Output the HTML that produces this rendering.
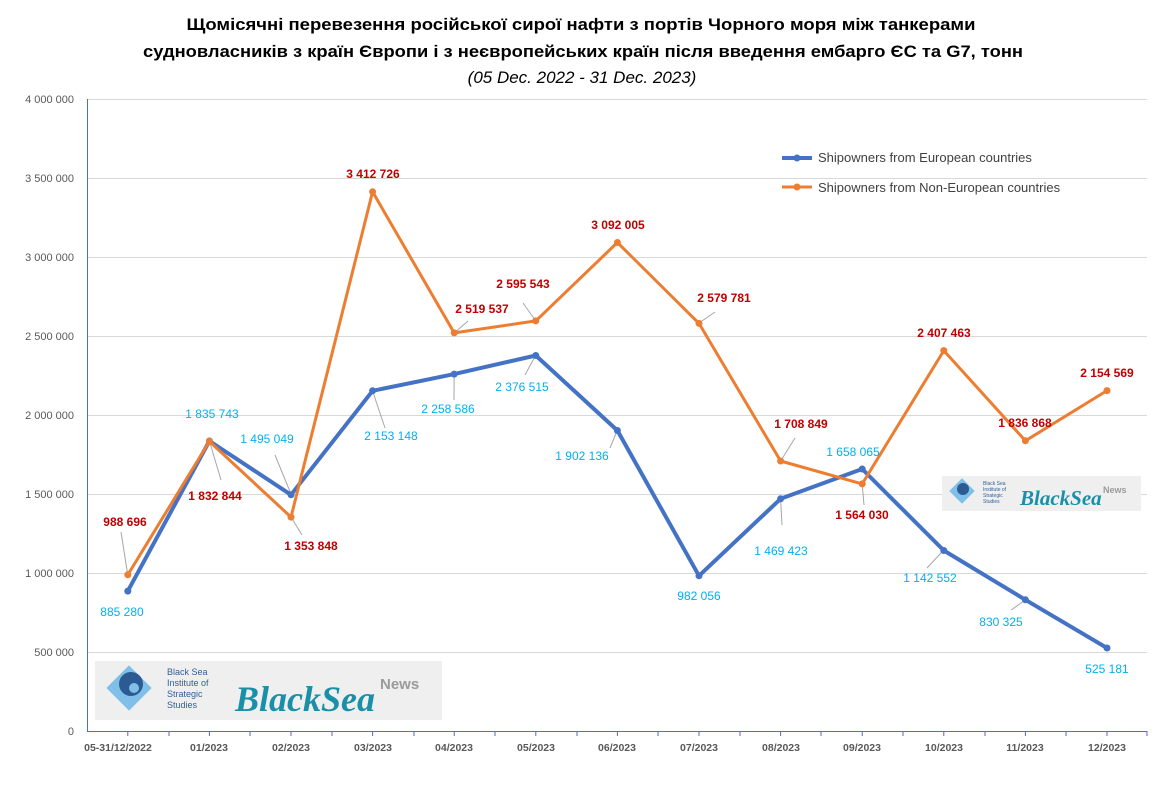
<!DOCTYPE html>
<html><head><meta charset="utf-8"><style>
html,body{margin:0;padding:0;background:#fff;}
svg{display:block;font-family:"Liberation Sans","DejaVu Sans",sans-serif;}
.yl{font-size:11px;fill:#595959;text-anchor:end}
.xl{font-size:10.5px;fill:#595959;text-anchor:middle;font-weight:bold}
.b{font-size:12px;fill:#00b0f0;text-anchor:middle}
.o{font-size:12px;fill:#c00000;text-anchor:middle;font-weight:bold}
</style></head><body>
<svg width="1165" height="800" viewBox="0 0 1165 800">
<rect width="1165" height="800" fill="#fff"/>
<text x="581" y="30" text-anchor="middle" font-size="17" font-weight="bold" fill="#000" textLength="789" lengthAdjust="spacingAndGlyphs">Щомісячні перевезення російської сирої нафти з портів Чорного моря між танкерами</text>
<text x="583" y="57" text-anchor="middle" font-size="17" font-weight="bold" fill="#000" textLength="880" lengthAdjust="spacingAndGlyphs">судновласників з країн Європи і з неєвропейських країн після введення ембарго ЄС та G7, тонн</text>
<text x="582" y="83" text-anchor="middle" font-size="17" font-style="italic" fill="#000">(05 Dec. 2022 - 31 Dec. 2023)</text>
<g stroke="#d9d9d9" stroke-width="1">
<line x1="87" y1="99.5" x2="1147" y2="99.5"/><line x1="87" y1="178.5" x2="1147" y2="178.5"/>
<line x1="87" y1="257.5" x2="1147" y2="257.5"/><line x1="87" y1="336.5" x2="1147" y2="336.5"/>
<line x1="87" y1="415.5" x2="1147" y2="415.5"/><line x1="87" y1="494.5" x2="1147" y2="494.5"/>
<line x1="87" y1="573.5" x2="1147" y2="573.5"/><line x1="87" y1="652.5" x2="1147" y2="652.5"/>
</g>
<line x1="87" y1="731.5" x2="1147" y2="731.5" stroke="#4472c4"/>
<line x1="87.5" y1="99" x2="87.5" y2="731" stroke="#4472c4"/>
<g stroke="#4472c4">
<path d="M127.8 731v5M169 731v5M209.4 731v5M250 731v5M291 731v5M332 731v5M372.6 731v5M414 731v5M454.2 731v5M495 731v5M535.8 731v5M577 731v5M617.4 731v5M658 731v5M699 731v5M740 731v5M780.6 731v5M821 731v5M862.2 731v5M903 731v5M943.8 731v5M985 731v5M1025.4 731v5M1066 731v5M1107 731v5M1147 731v5"/>
</g>
<g class="yl">
<text x="74" y="103">4 000 000</text><text x="74" y="182">3 500 000</text><text x="74" y="261">3 000 000</text>
<text x="74" y="340">2 500 000</text><text x="74" y="419">2 000 000</text><text x="74" y="498">1 500 000</text>
<text x="74" y="577">1 000 000</text><text x="74" y="656">500 000</text><text x="74" y="735">0</text>
</g>
<g class="xl">
<text x="118" y="751">05-31/12/2022</text><text x="209" y="751">01/2023</text><text x="291" y="751">02/2023</text>
<text x="373" y="751">03/2023</text><text x="454" y="751">04/2023</text><text x="536" y="751">05/2023</text>
<text x="617" y="751">06/2023</text><text x="699" y="751">07/2023</text><text x="781" y="751">08/2023</text>
<text x="862" y="751">09/2023</text><text x="944" y="751">10/2023</text><text x="1025" y="751">11/2023</text>
<text x="1107" y="751">12/2023</text>
</g>
<!-- logos -->
<rect x="95" y="661" width="347" height="59" fill="#efefef"/>
<rect x="113" y="672" width="32" height="32" fill="#7fbfe8" transform="rotate(45 129 688)"/>
<circle cx="131" cy="684" r="12" fill="#2c5a93"/>
<circle cx="134" cy="688" r="5" fill="#7fbfe8"/>
<text x="167" y="675" font-size="9" fill="#2f5f99">Black Sea</text>
<text x="167" y="686" font-size="9" fill="#2f5f99">Institute of</text>
<text x="167" y="697" font-size="9" fill="#2f5f99">Strategic</text>
<text x="167" y="708" font-size="9" fill="#2f5f99">Studies</text>
<text x="235" y="711" font-size="36" font-style="italic" font-weight="bold" fill="#1a8fa8" font-family="Liberation Serif,serif">BlackSea</text>
<text x="380" y="689" font-size="15" font-weight="bold" fill="#9a9a9a">News</text>
<rect x="942" y="476" width="199" height="35" fill="#efefef"/>
<rect x="953" y="482" width="18" height="18" fill="#7fbfe8" transform="rotate(45 962 491)"/>
<circle cx="963" cy="489" r="6" fill="#2c5a93"/>
<text x="983" y="485" font-size="5" fill="#2f5f99">Black Sea</text>
<text x="983" y="491" font-size="5" fill="#2f5f99">Institute of</text>
<text x="983" y="497" font-size="5" fill="#2f5f99">Strategic</text>
<text x="983" y="503" font-size="5" fill="#2f5f99">Studies</text>
<text x="1020" y="505" font-size="21" font-style="italic" font-weight="bold" fill="#1a8fa8" font-family="Liberation Serif,serif">BlackSea</text>
<text x="1103" y="493" font-size="9" font-weight="bold" fill="#9a9a9a">News</text>
<!-- leader lines -->
<g stroke="#a6a6a6" stroke-width="1" fill="none">
<path d="M127.8 575 L121 532"/><path d="M209.4 441 L221 480"/><path d="M291 494 L275 455"/>
<path d="M291 517 L302 535"/><path d="M372.6 391 L385 428"/><path d="M454.2 374 L454 400"/>
<path d="M454.2 333 L468 321"/><path d="M535.8 355 L525 375"/><path d="M535.8 321 L523 303"/>
<path d="M617.4 430 L610 448"/><path d="M699 323 L715 312"/><path d="M780.6 499 L782 525"/>
<path d="M780.6 461 L795 438"/><path d="M862.2 484 L864 505"/><path d="M943.8 550 L927 568"/>
<path d="M1025.4 600 L1011 610"/>
</g>
<polyline fill="none" stroke="#4472c4" stroke-width="4" stroke-linejoin="round" points="127.8,591.1 209.4,441 291,494.8 372.6,390.8 454.2,374.1 535.8,355.5 617.4,430.5 699,575.8 780.6,498.8 862.2,469 943.8,550.5 1025.4,599.8 1107,648"/>
<polyline fill="none" stroke="#ed7d31" stroke-width="3" stroke-linejoin="round" points="127.8,574.8 209.4,441.4 291,517.1 372.6,191.8 454.2,332.9 535.8,320.9 617.4,242.5 699,323.4 780.6,461 862.2,483.9 943.8,350.6 1025.4,440.8 1107,390.6"/>
<g fill="#4472c4">
<circle cx="127.8" cy="591.1" r="3.5"/><circle cx="209.4" cy="441" r="3.5"/><circle cx="291" cy="494.8" r="3.5"/><circle cx="372.6" cy="390.8" r="3.5"/><circle cx="454.2" cy="374.1" r="3.5"/><circle cx="535.8" cy="355.5" r="3.5"/><circle cx="617.4" cy="430.5" r="3.5"/><circle cx="699" cy="575.8" r="3.5"/><circle cx="780.6" cy="498.8" r="3.5"/><circle cx="862.2" cy="469" r="3.5"/><circle cx="943.8" cy="550.5" r="3.5"/><circle cx="1025.4" cy="599.8" r="3.5"/><circle cx="1107" cy="648" r="3.5"/>
</g>
<g fill="#ed7d31">
<circle cx="127.8" cy="574.8" r="3.5"/><circle cx="209.4" cy="441.4" r="3.5"/><circle cx="291" cy="517.1" r="3.5"/><circle cx="372.6" cy="191.8" r="3.5"/><circle cx="454.2" cy="332.9" r="3.5"/><circle cx="535.8" cy="320.9" r="3.5"/><circle cx="617.4" cy="242.5" r="3.5"/><circle cx="699" cy="323.4" r="3.5"/><circle cx="780.6" cy="461" r="3.5"/><circle cx="862.2" cy="483.9" r="3.5"/><circle cx="943.8" cy="350.6" r="3.5"/><circle cx="1025.4" cy="440.8" r="3.5"/><circle cx="1107" cy="390.6" r="3.5"/>
</g>
<g class="b">
<text x="122" y="616">885 280</text><text x="212" y="418">1 835 743</text><text x="267" y="443">1 495 049</text>
<text x="391" y="440">2 153 148</text><text x="448" y="413">2 258 586</text><text x="522" y="391">2 376 515</text>
<text x="582" y="460">1 902 136</text><text x="699" y="600">982 056</text><text x="781" y="555">1 469 423</text>
<text x="853" y="456">1 658 065</text><text x="930" y="582">1 142 552</text><text x="1001" y="626">830 325</text>
<text x="1107" y="673">525 181</text>
</g>
<g class="o">
<text x="125" y="526">988 696</text><text x="215" y="500">1 832 844</text><text x="311" y="550">1 353 848</text>
<text x="373" y="178">3 412 726</text><text x="482" y="313">2 519 537</text><text x="523" y="288">2 595 543</text>
<text x="618" y="229">3 092 005</text><text x="724" y="302">2 579 781</text><text x="801" y="428">1 708 849</text>
<text x="862" y="519">1 564 030</text><text x="944" y="337">2 407 463</text><text x="1025" y="427">1 836 868</text>
<text x="1107" y="377">2 154 569</text>
</g>
<!-- legend -->
<line x1="782" y1="158" x2="812" y2="158" stroke="#4472c4" stroke-width="4"/><circle cx="797" cy="158" r="3.5" fill="#4472c4"/>
<text x="818" y="162" font-size="13" fill="#404040">Shipowners from European countries</text>
<line x1="782" y1="187" x2="812" y2="187" stroke="#ed7d31" stroke-width="3"/><circle cx="797" cy="187" r="3.5" fill="#ed7d31"/>
<text x="818" y="192" font-size="13" fill="#404040">Shipowners from Non-European countries</text>
</svg>
</body></html>
